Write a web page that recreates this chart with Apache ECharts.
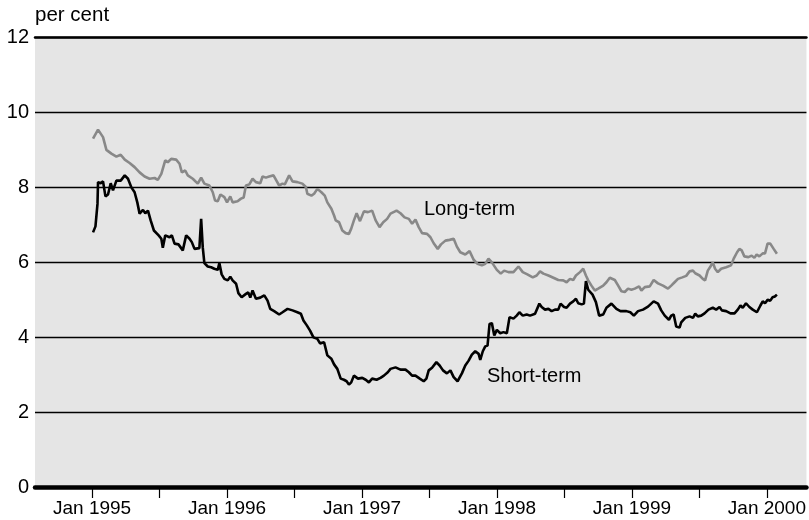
<!DOCTYPE html>
<html>
<head>
<meta charset="utf-8">
<script src="https://cdn.jsdelivr.net/npm/echarts@6/dist/echarts.min.js"></script>
<style>
html,body{margin:0;padding:0;background:#fff;}
#chart{width:809px;height:520px;}
</style>
</head>
<body>
<div id="chart"></div>
<script>
// Dates as decimal years, values in per cent
var shortDates = [1995.007,1995.025,1995.040,1995.044,1995.064,1995.081,1995.099,1995.118,1995.138,1995.155,
1995.180,1995.212,1995.242,1995.266,1995.291,1995.315,1995.335,1995.352,1995.377,1995.394,
1995.414,1995.434,1995.458,1995.493,1995.513,1995.524,1995.542,1995.574,1995.591,1995.611,
1995.640,1995.672,1995.697,1995.722,1995.739,1995.759,1995.795,1995.808,1995.820,1995.832,
1995.857,1995.882,1995.906,1995.931,1995.943,1995.960,1995.980,1996.005,1996.024,1996.041,
1996.067,1996.084,1996.108,1996.140,1996.157,1996.172,1996.189,1996.214,1996.246,1996.276,
1996.300,1996.320,1996.349,1996.386,1996.411,1996.448,1996.485,1996.521,1996.547,1996.566,
1996.591,1996.615,1996.640,1996.669,1996.689,1996.719,1996.743,1996.773,1996.793,1996.817,
1996.842,1996.866,1996.886,1996.903,1996.920,1996.940,1996.970,1997.002,1997.027,1997.051,
1997.075,1997.108,1997.137,1997.162,1997.191,1997.211,1997.248,1997.285,1997.322,1997.347,
1997.371,1997.396,1997.428,1997.457,1997.477,1997.494,1997.519,1997.551,1997.575,1997.600,
1997.629,1997.655,1997.679,1997.708,1997.740,1997.765,1997.790,1997.814,1997.839,1997.864,
1997.876,1997.895,1997.913,1997.930,1997.945,1997.962,1997.980,1997.999,1998.024,1998.048,
1998.073,1998.093,1998.122,1998.146,1998.166,1998.191,1998.220,1998.245,1998.282,1998.294,
1998.314,1998.331,1998.356,1998.381,1998.405,1998.430,1998.454,1998.471,1998.497,1998.516,
1998.541,1998.565,1998.585,1998.602,1998.627,1998.644,1998.659,1998.676,1998.708,1998.733,
1998.757,1998.787,1998.811,1998.848,1998.885,1998.915,1998.959,1998.988,1999.014,1999.045,
1999.082,1999.119,1999.161,1999.193,1999.217,1999.243,1999.274,1999.291,1999.309,1999.328,
1999.353,1999.365,1999.395,1999.427,1999.452,1999.469,1999.488,1999.513,1999.538,1999.567,
1999.599,1999.624,1999.649,1999.666,1999.698,1999.730,1999.760,1999.784,1999.804,1999.821,
1999.845,1999.870,1999.895,1999.926,1999.952,1999.969,1999.986,2000.005,2000.025,2000.042,
2000.059,2000.074];
var shortValues = [6.79,6.95,7.55,8.13,8.10,8.15,7.75,7.80,8.10,7.91,
8.17,8.17,8.31,8.22,7.99,7.86,7.59,7.29,7.39,7.30,
7.37,7.11,6.84,6.71,6.62,6.38,6.71,6.66,6.71,6.49,
6.47,6.31,6.71,6.62,6.53,6.35,6.37,7.15,6.39,5.97,
5.88,5.86,5.82,5.79,5.97,5.67,5.55,5.51,5.61,5.51,
5.42,5.17,5.06,5.15,5.19,5.05,5.24,5.02,5.05,5.11,
4.97,4.75,4.69,4.60,4.66,4.75,4.71,4.66,4.62,4.44,
4.31,4.17,3.99,3.95,3.83,3.86,3.51,3.42,3.27,3.15,
2.89,2.86,2.82,2.73,2.79,2.97,2.89,2.91,2.86,2.79,
2.89,2.86,2.91,2.97,3.06,3.15,3.19,3.13,3.13,3.06,
2.97,2.97,2.89,2.82,2.89,3.11,3.18,3.33,3.24,3.11,
3.03,3.11,2.93,2.82,3.03,3.24,3.37,3.53,3.62,3.55,
3.39,3.62,3.75,3.77,4.35,4.37,4.04,4.19,4.10,4.13,
4.10,4.53,4.49,4.57,4.66,4.57,4.60,4.57,4.62,4.66,
4.89,4.80,4.73,4.75,4.69,4.73,4.73,4.89,4.80,4.78,
4.89,4.95,5.02,4.90,4.87,4.89,5.49,5.26,5.13,4.93,
4.57,4.60,4.78,4.89,4.75,4.69,4.69,4.66,4.57,4.69,
4.73,4.81,4.95,4.89,4.71,4.57,4.46,4.57,4.60,4.28,
4.25,4.39,4.51,4.55,4.51,4.62,4.55,4.57,4.63,4.73,
4.78,4.73,4.80,4.71,4.69,4.63,4.63,4.73,4.84,4.78,
4.90,4.80,4.73,4.66,4.84,4.95,4.90,4.99,4.97,5.06,
5.08,5.13];

var longDates = [1995.007,1995.044,1995.081,1995.106,1995.143,1995.180,1995.212,1995.242,1995.278,1995.315,
1995.352,1995.389,1995.426,1995.463,1995.487,1995.513,1995.524,1995.542,1995.561,1995.586,
1995.623,1995.648,1995.665,1995.690,1995.709,1995.746,1995.783,1995.808,1995.832,1995.869,
1995.894,1995.911,1995.931,1995.951,1995.980,1996.000,1996.024,1996.041,1996.078,1996.103,1996.123,
1996.140,1996.165,1996.189,1996.214,1996.246,1996.263,1996.288,1996.312,1996.344,1996.369,
1996.386,1996.411,1996.428,1996.460,1996.485,1996.521,1996.558,1996.584,1996.595,1996.625,
1996.645,1996.669,1996.699,1996.724,1996.743,1996.773,1996.793,1996.805,1996.830,1996.854,
1996.879,1996.903,1996.920,1996.940,1996.960,1996.985,1997.014,1997.044,1997.075,1997.101,
1997.130,1997.157,1997.186,1997.211,
1997.256,1997.285,1997.315,1997.347,1997.371,1997.396,1997.420,1997.445,1997.482,1997.507,
1997.531,1997.561,1997.585,1997.618,1997.649,1997.679,1997.703,1997.728,1997.765,1997.797,
1997.827,1997.856,1997.888,1997.913,1997.937,1997.962,1997.999,1998.028,1998.053,1998.085,
1998.122,1998.159,1998.191,1998.225,1998.265,
1998.294,1998.319,1998.344,1998.381,1998.418,1998.454,1998.491,1998.516,1998.541,1998.565,
1998.585,1998.615,1998.639,1998.659,1998.676,1998.700,1998.725,1998.750,1998.787,1998.811,
1998.836,1998.873,1998.898,1998.922,1998.947,1998.971,1998.996,1999.021,1999.053,1999.070,
1999.095,1999.132,1999.161,1999.193,1999.230,1999.267,1999.291,1999.316,1999.341,1999.373,
1999.402,1999.427,1999.452,1999.469,1999.501,1999.525,1999.542,1999.562,1999.582,1999.599,
1999.616,1999.636,1999.661,1999.698,1999.734,1999.754,1999.779,1999.796,1999.813,1999.833,
1999.863,1999.887,1999.907,1999.924,1999.944,1999.969,1999.986,2000.005,2000.025,2000.050,
2000.074];
var longValues = [9.29,9.53,9.33,8.99,8.89,8.81,8.86,8.73,8.64,8.53,
8.39,8.28,8.22,8.24,8.19,8.35,8.31,8.71,8.66,8.75,
8.73,8.62,8.39,8.44,8.31,8.22,8.09,8.25,8.09,8.04,
7.86,7.64,7.62,7.80,7.73,7.59,7.75,7.59,7.62,7.69,7.72,
8.04,8.07,8.22,8.13,8.10,8.28,8.25,8.28,8.31,8.15,
8.04,8.09,8.07,8.31,8.15,8.13,8.09,8.00,7.82,7.77,
7.82,7.95,7.86,7.77,7.59,7.42,7.24,7.11,7.06,6.84,
6.77,6.75,6.89,7.11,7.30,7.09,7.35,7.33,7.37,7.11,
6.93,7.06,7.15,7.29,
7.37,7.30,7.19,7.15,7.02,7.13,6.93,6.77,6.75,6.66,
6.50,6.35,6.47,6.57,6.59,6.62,6.41,6.26,6.20,6.29,
6.06,5.95,5.91,5.95,6.09,5.99,5.79,5.69,5.77,5.73,
5.73,5.88,5.73,5.67,5.59,
5.64,5.75,5.69,5.64,5.58,5.52,5.51,5.46,5.55,5.52,
5.64,5.73,5.82,5.64,5.51,5.37,5.24,5.29,5.37,5.46,
5.58,5.52,5.37,5.22,5.20,5.29,5.26,5.29,5.35,5.24,
5.33,5.35,5.52,5.43,5.37,5.29,5.37,5.46,5.55,5.59,
5.63,5.75,5.77,5.70,5.64,5.55,5.51,5.77,5.88,5.99,
5.82,5.73,5.82,5.86,5.91,6.09,6.26,6.35,6.31,6.15,
6.13,6.17,6.11,6.20,6.15,6.23,6.23,6.49,6.49,6.35,
6.22];

var yTicks = [0, 2, 4, 6, 8, 10, 12];
var xTickYears = [1995, 1995.5, 1996, 1996.5, 1997, 1997.5, 1998, 1998.5, 1999, 1999.5, 2000];
var xLabelYears = [1995, 1996, 1997, 1998, 1999, 2000];
var xMin = 1994.577, xMax = 2000.293;

function zip(d, v) {
  var out = [];
  var n = Math.min(d.length, v.length);
  for (var i = 0; i < n; i++) out.push([d[i], v[i]]);
  return out;
}

var chart = echarts.init(document.getElementById('chart'), null, {renderer: 'canvas'});
var font = 'Liberation Sans, Arial, Helvetica, sans-serif';
chart.setOption({
  animation: false,
  grid: {left: 35, right: 0, top: 37, bottom: 33, show: true, backgroundColor: '#e5e5e5', borderWidth: 0},
  xAxis: [{
    type: 'value', min: xMin, max: xMax, position: 'bottom',
    axisLine: {show: true, onZero: false, lineStyle: {color: '#000', width: 4.5}},
    axisTick: {show: true, length: 11, customValues: xTickYears, lineStyle: {color: '#000', width: 1.2}},
    axisLabel: {show: true, customValues: xLabelYears, margin: 12, fontSize: 19, color: '#000', fontFamily: font,
      formatter: function (v) { return 'Jan ' + Math.round(v); }},
    splitLine: {show: false}
  }, {
    type: 'value', min: xMin, max: xMax, position: 'top',
    axisLine: {show: true, onZero: false, lineStyle: {color: '#000', width: 2.5}},
    axisTick: {show: false}, axisLabel: {show: false}, splitLine: {show: false}
  }],
  yAxis: {
    type: 'value', min: 0, max: 12, interval: 2,
    axisLine: {show: false}, axisTick: {show: false},
    axisLabel: {fontSize: 20, color: '#000', fontFamily: font, margin: 6,
      formatter: function (v) { return yTicks.indexOf(v) >= 0 ? String(v) : ''; }},
    splitLine: {show: true, lineStyle: {color: '#000', width: 1.4}}
  },
  graphic: [
    {type: 'text', left: 35, top: 5, style: {text: 'per cent', fontSize: 20.5, fontFamily: font, fill: '#000'}},
    {type: 'text', left: 424, top: 199, style: {text: 'Long-term', fontSize: 20, fontFamily: font, fill: '#000'}},
    {type: 'text', left: 487, top: 366, style: {text: 'Short-term', fontSize: 20, fontFamily: font, fill: '#000'}}
  ],
  series: [
    {name: 'Long-term', type: 'line', data: zip(longDates, longValues), showSymbol: false, symbol: 'none',
      lineStyle: {color: '#888888', width: 2.6}, z: 3},
    {name: 'Short-term', type: 'line', data: zip(shortDates, shortValues), showSymbol: false, symbol: 'none',
      lineStyle: {color: '#000', width: 2.6}, z: 4}
  ]
});
</script>
</body>
</html>
